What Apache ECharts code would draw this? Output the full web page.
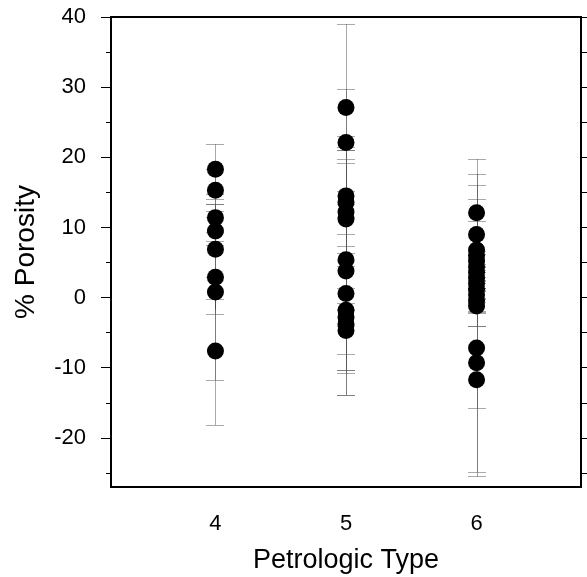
<!DOCTYPE html>
<html>
<head>
<meta charset="utf-8">
<script src="https://cdn.jsdelivr.net/npm/echarts@6/dist/echarts.min.js"></script>
<style>
html,body{margin:0;padding:0;background:#fff;}
#chart{width:587px;height:577px;}
</style>
</head>
<body>
<div id="chart"></div>
<script>
const petrologicTypes = [4, 5, 6];
const yMajorTicks = [-20, -10, 0, 10, 20, 30, 40];
const yMinorTicks = [-25, -15, -5, 5, 15, 25, 35];

const type4Porosity = [18.3, 15.3, 11.4, 9.5, 6.9, 2.9, 0.8, -7.6];
const type4Error    = [3.6, 3.0, 2.0, 2.0, 7.1, 5.2, 12.6, 10.5];

const type5Porosity = [27.1, 22.1, 14.5, 13.6, 12.2, 11.2, 5.4, 3.8, 0.6, -1.8, -2.8, -3.8, -4.7];
const type5Error    = [11.9, 1.0, 15.2, 6.2, 7.0, 2.1, 15.7, 17.7, 10.9, 6.3, 1.2, 10.1, 6.1];

const type6Porosity = [12.1, 9.0, 6.8, 6.0, 5.2, 4.4, 3.6, 2.8, 2.0, 1.2, 0.4, -0.4, -1.2, -7.2, -9.3, -11.7];
const type6Error    = [7.6, 5.0, 10.8, 10.1, 1.5, 6.5, 1.2, 1.5, 1.0, 1.3, 1.0, 1.5, 1.0, 8.6, 15.5, 13.8];

const groups = [
  {type: 4, values: type4Porosity, errors: type4Error},
  {type: 5, values: type5Porosity, errors: type5Error},
  {type: 6, values: type6Porosity, errors: type6Error}
];

const pointData = [];
const errorData = [];
groups.forEach(g => {
  g.values.forEach((v, i) => {
    pointData.push([g.type, v]);
    errorData.push([g.type, v, g.errors[i]]);
  });
});

const FONT = '"Liberation Sans", Arial, Helvetica, sans-serif';

function dotted() {
  return {stroke: '#555', lineWidth: 1, lineDash: [1, 1], fill: null};
}

function renderErrorBar(params, api) {
  const x = api.value(0), y = api.value(1), e = api.value(2);
  const top = api.coord([x, y + e]);
  const bot = api.coord([x, y - e]);
  const cx = Math.round(top[0]) + 0.5;
  const ty = Math.round(top[1]) + 0.5;
  const by = Math.round(bot[1]) + 0.5;
  const hw = 9;
  return {
    type: 'group',
    children: [
      {type: 'line', shape: {x1: cx, y1: ty, x2: cx, y2: by}, style: dotted()},
      {type: 'line', shape: {x1: cx - hw, y1: ty, x2: cx + hw, y2: ty}, style: dotted()},
      {type: 'line', shape: {x1: cx - hw, y1: by, x2: cx + hw, y2: by}, style: dotted()}
    ]
  };
}

const chart = echarts.init(document.getElementById('chart'), null, {renderer: 'canvas'});

const tickStyle = {color: '#000', width: 1};

chart.setOption({
  animation: false,
  backgroundColor: '#fff',
  grid: {
    left: 111, top: 17, right: 6, bottom: 90,
    outerBoundsMode: 'none',
    containLabel: false,
    show: true, borderColor: '#000', borderWidth: 2, backgroundColor: 'transparent'
  },
  xAxis: [
    {
      type: 'value', min: 3.2, max: 6.8, position: 'bottom',
      axisLine: {show: false},
      splitLine: {show: false},
      axisTick: {show: true, customValues: petrologicTypes, length: 12, lineStyle: tickStyle},
      axisLabel: {customValues: petrologicTypes, color: '#000', fontSize: 22, fontFamily: FONT, margin: 26},
      name: 'Petrologic Type', nameLocation: 'middle', nameGap: 60,
      nameTextStyle: {color: '#000', fontSize: 27, fontFamily: FONT}
    },
    {
      type: 'value', min: 3.2, max: 6.8, position: 'top',
      axisLine: {show: false},
      splitLine: {show: false},
      axisTick: {show: true, customValues: petrologicTypes, length: 10, lineStyle: tickStyle},
      axisLabel: {show: false}
    }
  ],
  yAxis: [
    {
      type: 'value', min: -27, max: 40, position: 'left',
      axisLine: {show: false},
      splitLine: {show: false},
      axisTick: {show: true, customValues: yMajorTicks, length: 10, lineStyle: tickStyle},
      axisLabel: {customValues: yMajorTicks, color: '#000', fontSize: 22, fontFamily: FONT, margin: 25},
      name: '% Porosity', nameLocation: 'middle', nameGap: 71,
      nameTextStyle: {color: '#000', fontSize: 28, fontFamily: FONT}
    },
    {
      type: 'value', min: -27, max: 40, position: 'left',
      axisLine: {show: false},
      splitLine: {show: false},
      axisTick: {show: true, customValues: yMinorTicks, length: 5, lineStyle: tickStyle},
      axisLabel: {show: false}
    },
    {
      type: 'value', min: -27, max: 40, position: 'right',
      axisLine: {show: false},
      splitLine: {show: false},
      axisTick: {show: true, customValues: yMajorTicks.concat(yMinorTicks), length: 6, lineStyle: tickStyle},
      axisLabel: {show: false}
    }
  ],
  series: [
    {
      type: 'custom',
      xAxisIndex: 0, yAxisIndex: 0,
      renderItem: renderErrorBar,
      data: errorData,
      z: 1,
      silent: true
    },
    {
      type: 'scatter',
      xAxisIndex: 0, yAxisIndex: 0,
      data: pointData,
      symbol: 'circle',
      symbolSize: 17,
      itemStyle: {color: '#000', opacity: 1},
      z: 3,
      silent: true
    }
  ]
});
</script>
</body>
</html>
